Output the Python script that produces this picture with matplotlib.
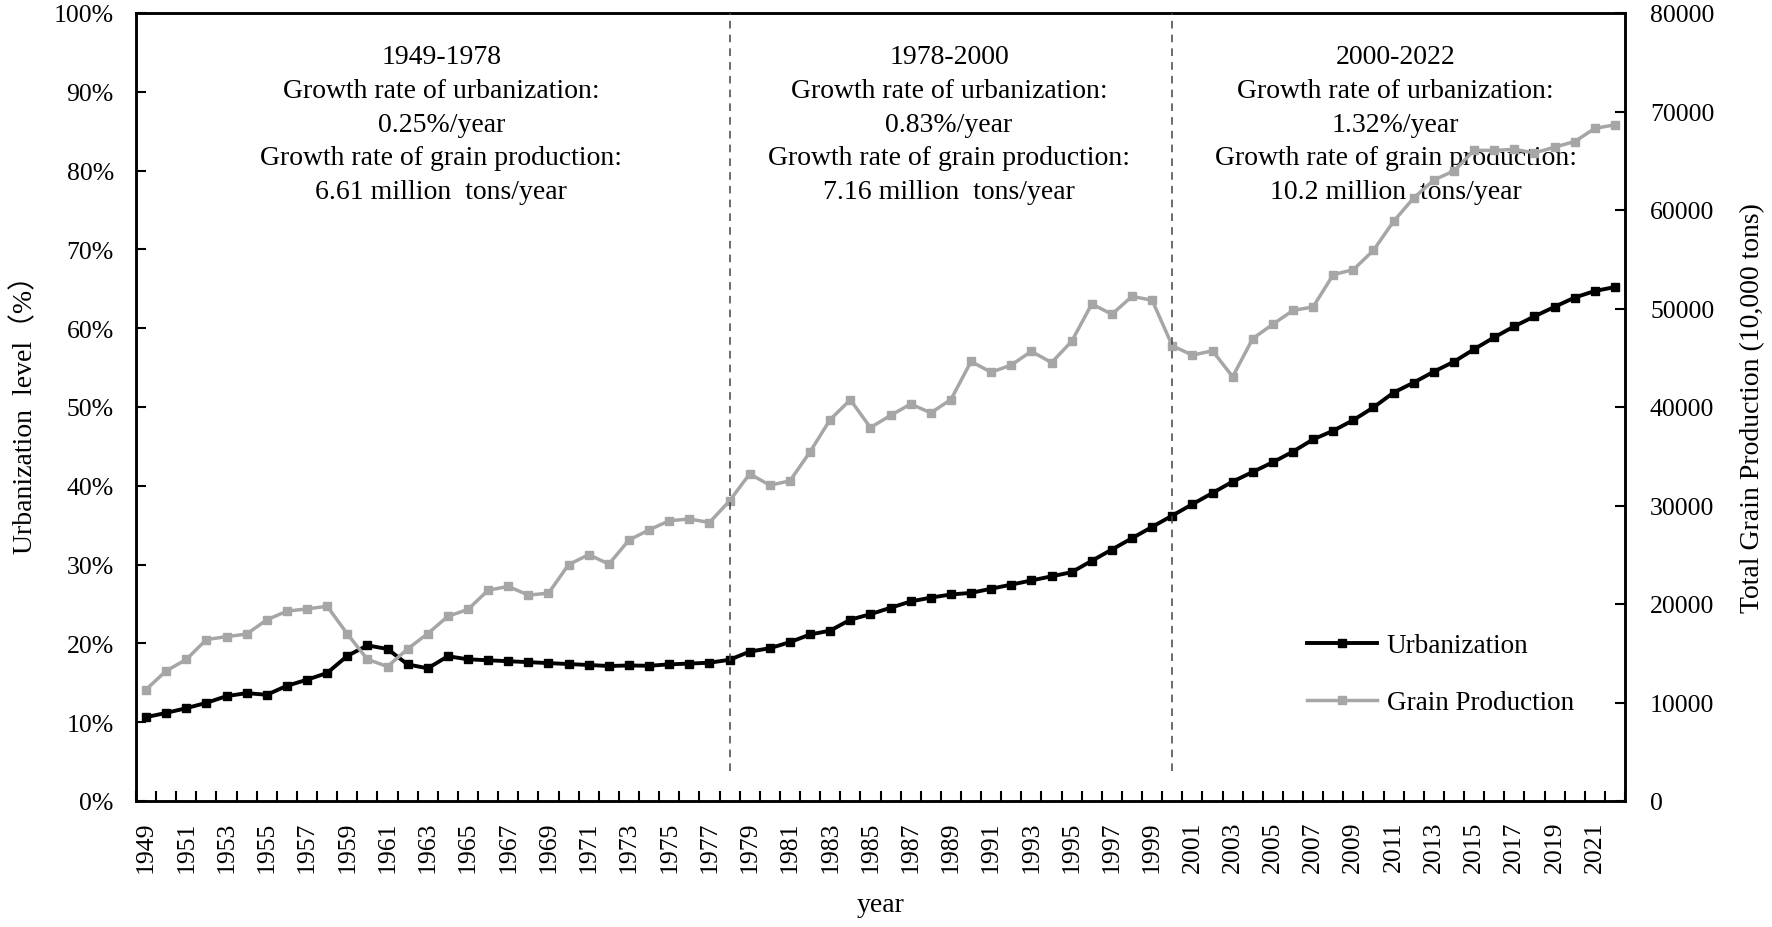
import matplotlib
matplotlib.use("Agg")
import matplotlib.pyplot as plt
from matplotlib.ticker import FixedLocator

plt.rcParams['font.family'] = ['Liberation Serif', 'DejaVu Serif']

years = list(range(1949, 2023))

urbanization = [
    10.64, 11.18, 11.78, 12.46, 13.31, 13.69, 13.48, 14.62, 15.39, 16.25,
    18.41, 19.75, 19.29, 17.33, 16.84, 18.37, 17.98, 17.86, 17.74, 17.62,
    17.50, 17.38, 17.26, 17.13, 17.20, 17.16, 17.34, 17.44, 17.55, 17.92,
    18.96, 19.39, 20.16, 21.13, 21.62, 23.01, 23.71, 24.52, 25.32, 25.81,
    26.21, 26.41, 26.94, 27.46, 27.99, 28.51, 29.04, 30.48, 31.91, 33.35,
    34.78, 36.22, 37.66, 39.09, 40.53, 41.76, 42.99, 44.34, 45.89, 46.99,
    48.34, 49.95, 51.83, 53.10, 54.49, 55.75, 57.33, 58.84, 60.24, 61.50,
    62.71, 63.89, 64.72, 65.22,
]

grain = [
    11318, 13213, 14369, 16392, 16683, 16952, 18394, 19275, 19505, 19765,
    16968, 14385, 13650, 15441, 17000, 18750, 19453, 21400, 21782, 20906,
    21097, 23996, 25014, 24048, 26494, 27527, 28452, 28631, 28273, 30477,
    33212, 32056, 32502, 35450, 38728, 40731, 37911, 39151, 40298, 39408,
    40755, 44624, 43529, 44266, 45649, 44510, 46662, 50454, 49417, 51230,
    50839, 46218, 45264, 45706, 43070, 46947, 48402, 49804, 50160, 53434,
    53941, 55911, 58849, 61223, 63048, 63965, 66060, 66044, 66161, 65789,
    66384, 66949, 68285, 68653,
]

left_ticks = [0, 10, 20, 30, 40, 50, 60, 70, 80, 90, 100]
left_labels = ['0%', '10%', '20%', '30%', '40%', '50%', '60%', '70%', '80%', '90%', '100%']
right_ticks = [0, 10000, 20000, 30000, 40000, 50000, 60000, 70000, 80000]

period_breaks = [1978, 2000]
period_notes = [
    "1949-1978\nGrowth rate of urbanization:\n0.25%/year\nGrowth rate of grain production:\n6.61 million  tons/year",
    "1978-2000\nGrowth rate of urbanization:\n0.83%/year\nGrowth rate of grain production:\n7.16 million  tons/year",
    "2000-2022\nGrowth rate of urbanization:\n1.32%/year\nGrowth rate of grain production:\n10.2 million  tons/year",
]
note_x = [0.205, 0.546, 0.846]

W, H = 1772, 928
fig = plt.figure(figsize=(W / 100, H / 100), dpi=100)
fig.subplots_adjust(left=136 / W, right=1625 / W, top=1 - 14 / H, bottom=1 - 802 / H)
ax = fig.add_subplot(111)
ax2 = ax.twinx()

x = list(range(len(years)))

l1, = ax.plot(x, urbanization, color='black', lw=2.8, marker='s', ms=6.3,
              label='Urbanization', zorder=3)
l2, = ax2.plot(x, grain, color='#a6a6a6', lw=2.5, marker='s', ms=5.8,
               label='Grain Production', zorder=3)

for yr in period_breaks:
    ax2.axvline(years.index(yr), ymin=0.038, ymax=1, color='#444444', lw=1.1,
                linestyle=(0, (5, 4)), zorder=4)

ax.set_xlim(-0.5, len(years) - 0.5)
ax.set_ylim(0, 100)
ax2.set_ylim(0, 80000)

# category axis: labels at centres, tick marks at boundaries
lab_pos = [i for i, y in enumerate(years) if (y - 1949) % 2 == 0]
ax.set_xticks(lab_pos)
ax.set_xticklabels([str(years[i]) for i in lab_pos], rotation=90, fontsize=18.5)
ax.tick_params(axis='x', which='major', length=0, pad=14)
ax.xaxis.set_minor_locator(FixedLocator([i - 0.5 for i in range(len(years) + 1)]))
ax.tick_params(axis='x', which='minor', direction='in', length=7, width=1.5)

ax.set_yticks(left_ticks)
ax.set_yticklabels(left_labels, fontsize=18.5)
ax.tick_params(axis='y', direction='in', length=7, width=1.5, pad=16)

ax2.set_yticks(right_ticks)
ax2.set_yticklabels([str(v) for v in right_ticks], fontsize=18.5)
ax2.tick_params(axis='y', direction='in', length=7, width=1.5, pad=18)

for a in (ax, ax2):
    for s in a.spines.values():
        s.set_linewidth(1.8)

ax.set_xlabel('year', fontsize=20, va='center')
ax.xaxis.set_label_coords(0.5, (802 - 906) / 788)
ax.set_ylabel('Urbanization  level（%）', fontsize=20, va='center',
              family=['Liberation Serif', 'Noto Sans CJK SC'])
ax.yaxis.set_label_coords((25 - 136) / 1489, 0.5)
ax2.set_ylabel('Total Grain Production (10,000 tons)', fontsize=20, va='center')
ax2.yaxis.set_label_coords((1753 - 136) / 1489, 0.5)

for nx, note in zip(note_x, period_notes):
    ax.text(nx, (802 - 125) / 788, note, transform=ax.transAxes, fontsize=20,
            ha='center', va='center', ma='center', linespacing=1.46, zorder=5)

ax2.legend(handles=[l1, l2], loc='upper left',
           bbox_to_anchor=((1307 - 136) / 1489, (802 - 634) / 788),
           frameon=False, fontsize=19.5, borderpad=0, borderaxespad=0,
           handlelength=2.6, handletextpad=0.35, labelspacing=1.2,
           markerscale=1.0)

fig.savefig('out.png', dpi=100)
